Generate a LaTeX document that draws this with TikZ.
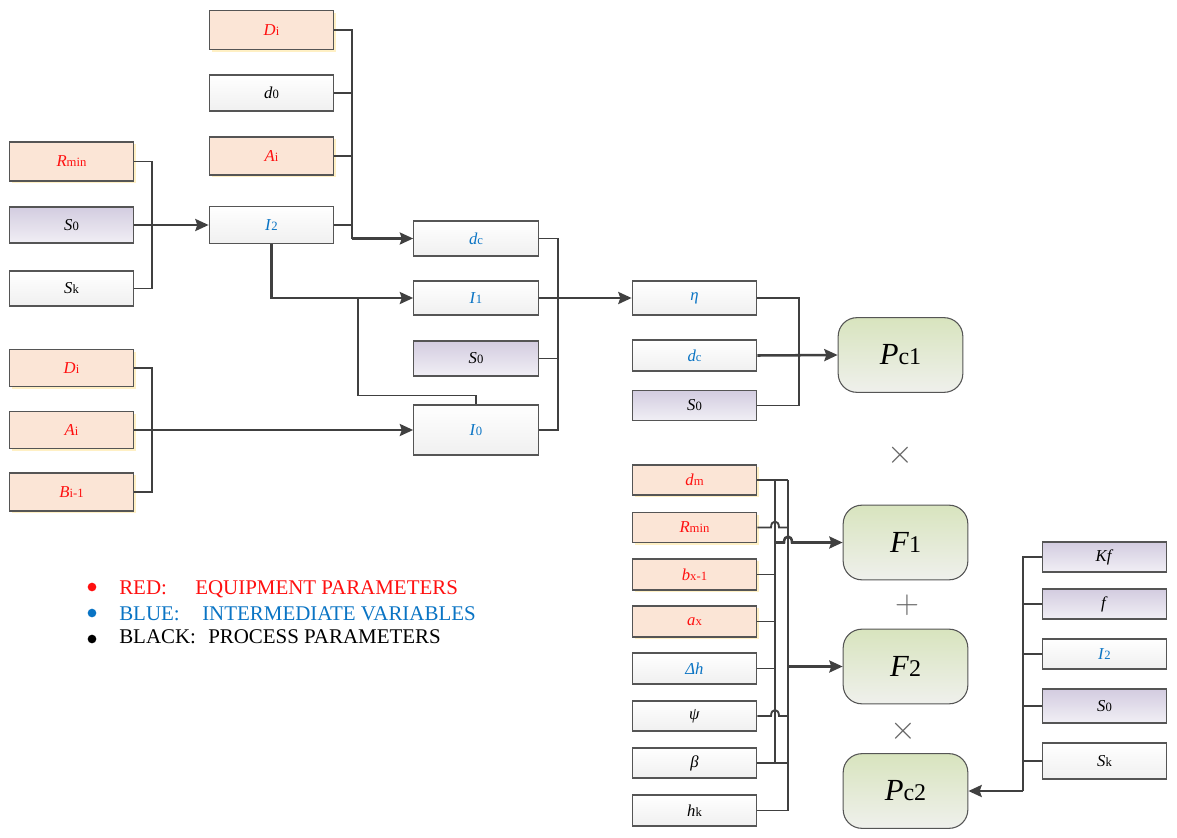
\documentclass[tikz,border=0pt]{standalone}
\usepackage{fontspec}
\setmainfont{Liberation Serif}
\usepackage{xcolor}
\usetikzlibrary{arrows.meta,shadows}

\definecolor{eqfill}{HTML}{FBE5D6}
\definecolor{eqglow}{HTML}{FFF0C4}
\definecolor{putop}{HTML}{D3CCE0}
\definecolor{pubot}{HTML}{F1EFF5}
\definecolor{grtop}{HTML}{D8E4BE}
\definecolor{grbot}{HTML}{EFF0EC}
\definecolor{eqred}{HTML}{FF1010}
\definecolor{ivblue}{HTML}{0A74C4}
\definecolor{linegray}{HTML}{404040}
\definecolor{edgegray}{HTML}{555555}

% variable with upright index
\newcommand{\pv}[2]{\textit{#1}{\fontsize{9.5}{10}\selectfont #2}}
\newcommand{\rv}[2]{\textit{#1}{\fontsize{18}{20}\selectfont #2}}

\begin{document}
\begin{tikzpicture}[x=0.75pt, y=-0.75pt,
  pbox/.style={draw=edgegray, line width=0.8pt, minimum width=93.5pt, minimum height=22.5pt, inner sep=0pt, font=\fontsize{12.5}{14}\selectfont},
  tall/.style={minimum height=#1*0.75pt},
  eqbox/.style={pbox, fill=eqfill, text=eqred, drop shadow={shadow xshift=1.8pt, shadow yshift=-1.8pt, fill=eqglow, opacity=1}},
  pubox/.style={pbox, top color=putop, bottom color=pubot},
  prbox/.style={pbox, top color=white, bottom color=black!6},
  ivbox/.style={prbox, text=ivblue},
  resbox/.style={draw=edgegray, line width=0.8pt, rounded corners=14pt, minimum width=93.5pt, minimum height=56pt, top color=grtop, bottom color=grbot, font=\fontsize{23}{26}\selectfont},
  opsym/.style={text=black!60, inner sep=0pt, font=\fontsize{34}{34}\selectfont},
  dot/.style={circle, inner sep=0pt, minimum size=6.5pt},
  keytext/.style={anchor=base west, inner sep=0pt, font=\fontsize{15.7}{18}\selectfont},
  wire/.style={draw=linegray, line width=1.4pt},
  feed/.style={wire, line width=1.9pt, -{Stealth[length=10pt,width=9pt,inset=1.5pt]}}
]
  \useasboundingbox (0,0) rectangle (1177,838);

  % left inputs
  \node[eqbox, tall=39] (rminA) at (71.5,161.5) {\pv{R}{min}};
  \node[pubox, tall=36] (s0A) at (71.5,225) {\pv{S}{0}};
  \node[prbox, tall=35] (skA) at (71.5,288.5) {\pv{S}{k}};
  \node[eqbox, tall=37] (diA) at (71.5,368) {\pv{D}{i}};
  \node[eqbox, tall=37] (aiA) at (71.5,430) {\pv{A}{i}};
  \node[eqbox, tall=38] (biA) at (71.5,492) {\pv{B}{i-1}};

  \node[eqbox, tall=39] (diB) at (271.5,30) {\pv{D}{i}};
  \node[prbox, tall=36] (d0B) at (271.5,93) {\pv{d}{0}};
  \node[eqbox, tall=38] (aiB) at (271.5,156) {\pv{A}{i}};
  \node[ivbox, tall=37] (i2B) at (271.5,225) {\pv{I}{2}};

  \node[ivbox, tall=35] (dcC) at (476,238.5) {\pv{d}{c}};
  \node[ivbox, tall=34] (i1C) at (476,298) {\pv{I}{1}};
  \node[pubox, tall=35] (s0C) at (476,358.5) {\pv{S}{0}};
  \node[ivbox, tall=50] (i0C) at (476,430) {\pv{I}{0}};

  \node[ivbox, tall=34] (etaD) at (694.5,298) {\textit{η}};
  \node[ivbox, tall=31] (dcD) at (694.5,355.5) {\pv{d}{c}};
  \node[pubox, tall=30] (s0D) at (694.5,405.5) {\pv{S}{0}};

  % results
  \node[resbox] (pc1) at (900.5,355) {\rv{P}{c1}};
  \node[resbox] (f1) at (905.5,542.5) {\rv{F}{1}};
  \node[resbox] (f2) at (905.5,666.5) {\rv{F}{2}};
  \node[resbox] (pc2) at (905.5,791) {\rv{P}{c2}};
  \node[opsym] (mul1) at (900,455) {$\times$};
  \node[opsym] (plus) at (907,605) {$+$};
  \node[opsym] (mul2) at (903,731) {$\times$};

  \node[eqbox, tall=30] (dmE) at (694.5,480) {\pv{d}{m}};
  \node[eqbox, tall=30] (rminE) at (694.5,527.5) {\pv{R}{min}};
  \node[eqbox, tall=31] (bxE) at (694.5,574.5) {\pv{b}{x-1}};
  \node[eqbox, tall=31] (axE) at (694.5,621.5) {\pv{a}{x}};
  \node[ivbox, tall=31] (dhE) at (694.5,668.5) {\textit{Δh}};
  \node[prbox, tall=30] (psiE) at (694.5,716) {\textit{ψ}};
  \node[prbox, tall=30] (betaE) at (694.5,763) {\textit{β}};
  \node[prbox, tall=31] (hkE) at (694.5,810.5) {\pv{h}{k}};

  \node[pubox, tall=30] (kfF) at (1104.5,557) {\textit{Kf}};
  \node[pubox, tall=30] (fF) at (1104.5,604) {\textit{f}};
  \node[ivbox, tall=30] (i2F) at (1104.5,654) {\pv{I}{2}};
  \node[pubox, tall=34] (s0F) at (1104.5,706) {\pv{S}{0}};
  \node[prbox, tall=36] (skF) at (1104.5,761) {\pv{S}{k}};

  % bus lines
  \coordinate (busL) at (152,0);
  \coordinate (busM) at (352,0);
  \coordinate (busN) at (558,0);
  \coordinate (busQ) at (799,0);
  \coordinate (busA) at (775,0);
  \coordinate (busB) at (788,0);
  \coordinate (busR) at (1023,0);
  \coordinate (tap) at (358,298);

  \draw[wire] (rminA.east) -| (busL |- skA.east) -- (skA.east);
  \draw[feed] (s0A.east) -- (i2B.west);
  \draw[wire] (diA.east) -| (busL |- biA.east) -- (biA.east);
  \draw[feed] (aiA.east) -- (i0C.west);

  \draw[wire] (diB.east) -| (busM |- dcC.west);
  \draw[wire] (d0B.east) -- (busM |- d0B.east);
  \draw[wire] (aiB.east) -- (busM |- aiB.east);
  \draw[wire] (i2B.east) -- (busM |- i2B.east);
  \draw[feed] (busM |- dcC.west) -- (dcC.west);
  \draw[feed] (i2B.south) |- (i1C.west);
  \draw[wire] (tap) -- (358,395.5) -| (i0C.north);

  \draw[wire] (dcC.east) -| (busN |- i0C.east) -- (i0C.east);
  \draw[wire] (s0C.east) -- (busN |- s0C.east);
  \draw[feed] (i1C.east) -- (etaD.west);

  \draw[wire] (etaD.east) -| (busQ |- s0D.east) -- (s0D.east);
  \draw[feed] (dcD.east) -- (pc1.west);

  \draw[wire] (dmE.east) -- (busB |- dmE.east);
  \draw[wire] (busA |- dmE.east) -- (busA |- betaE.east);
  \draw[wire] (busB |- dmE.east) -- (busB |- hkE.east);
  \draw[wire] (rminE.east) -- (771,527.5) .. controls (771,519.5) and (779,519.5) .. (779,527.5) -- (busB |- rminE.east);
  \draw[wire] (bxE.east) -- (busA |- bxE.east);
  \draw[wire] (axE.east) -- (busA |- axE.east);
  \draw[wire] (dhE.east) -- (busA |- dhE.east);
  \draw[wire] (psiE.east) -- (771,716) .. controls (771,708) and (779,708) .. (779,716) -- (busB |- psiE.east);
  \draw[wire] (betaE.east) -- (busB |- betaE.east);
  \draw[wire] (hkE.east) -- (busB |- hkE.east);
  \draw[feed] (busA |- f1.west) -- (784,542.5) .. controls (784,534.5) and (792,534.5) .. (792,542.5) -- (f1.west);
  \draw[feed] (busB |- f2.west) -- (f2.west);

  \draw[wire] (kfF.west) -| (busR |- pc2.east);
  \draw[wire] (fF.west) -- (busR |- fF.west);
  \draw[wire] (i2F.west) -- (busR |- i2F.west);
  \draw[wire] (s0F.west) -- (busR |- s0F.west);
  \draw[wire] (skF.west) -- (busR |- skF.west);
  \draw[feed] (busR |- pc2.east) -- (pc2.east);

  % legend
  \node[dot, fill=eqred] (dotR) at (92,587) {};
  \node[dot, fill=ivblue] (dotB) at (92,613) {};
  \node[dot, fill=black] (dotK) at (92,639) {};
  \node[keytext, text=eqred] (keyR) at (119,594) {RED:};
  \node[keytext, text=eqred] (descR) at (195,594) {EQUIPMENT PARAMETERS};
  \node[keytext, text=ivblue] (keyB) at (119,620) {BLUE:};
  \node[keytext, text=ivblue] (descB) at (202,620) {INTERMEDIATE VARIABLES};
  \node[keytext] (keyK) at (119,643) {BLACK:};
  \node[keytext] (descK) at (208,643) {PROCESS PARAMETERS};
\end{tikzpicture}
\end{document}
